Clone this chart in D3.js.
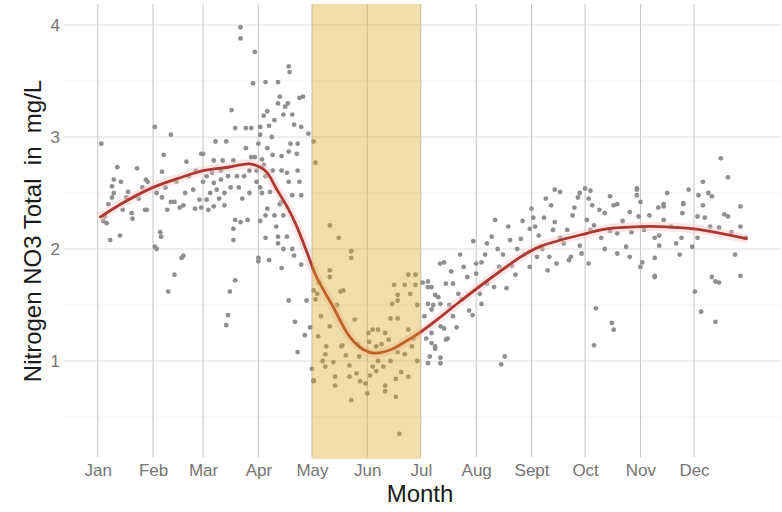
<!DOCTYPE html>
<html>
<head>
<meta charset="utf-8">
<script src="https://cdn.jsdelivr.net/npm/d3@7"></script>
<style>
  html, body { margin: 0; padding: 0; background: #fff; }
  svg { display: block; }
  text { font-family: "Liberation Sans", Arial, Helvetica, sans-serif; }
</style>
</head>
<body>
<svg id="chart" width="782" height="512"></svg>
<script>
// ---- tick labels ----
const monthLabels = ["Jan","Feb","Mar","Apr","May","Jun","Jul","Aug","Sept","Oct","Nov","Dec"];
const monthStartDays = [1,32,60,91,121,152,182,213,244,274,305,335];
const yTicks = [1,2,3,4];
const yMinor = [0.5,1.5,2.5,3.5];

// ---- highlighted period (day of year) ----
const highlightStart = 121; // May 1
const highlightEnd = 182;   // Jul 1

// ---- observations: [day of year, NO3 mg/L] ----
const obsJan = [[3,2.94],[12,2.73],[23,2.72],[10,2.62],[9,2.56],[10,2.5],[18,2.51],[17,2.46],[9,2.46],[5,2.29],[6,2.23],[20,2.32],[20.5,2.27],[8,2.08],[13.5,2.12],[28,2.62],[29,2.6],[27.5,2.35],[28.5,2.35],[4,2.25],[7,2.4],[14,2.6],[24,2.45],[26,2.55],[15,2.35]];
const obsFeb = [[33,3.09],[42,3.02],[38,2.84],[37,2.69],[34,2.5],[37,2.46],[36,2.15],[36.5,2.11],[33,2.02],[34,2.0],[48,1.92],[49,1.94],[44,1.77],[40.5,1.62],[40,2.35],[42,2.42],[44,2.42],[49,2.39],[50,2.5],[54.5,2.53],[55.5,2.36],[50.7,2.78],[58,2.44],[59,2.37],[47,2.37],[45,2.6],[52,2.65],[39,2.55],[56,2.7]];
const obsMar = [[59,2.85],[60,2.85],[67,2.96],[73,2.96],[66,2.79],[71,2.79],[77,2.79],[62,2.65],[66,2.59],[70,2.62],[74,2.65],[79,2.65],[83,2.65],[86,2.7],[67.7,2.53],[72,2.5],[75.5,2.55],[62,2.44],[63,2.35],[66,2.38],[72,2.39],[78,2.26],[81,2.24],[85,2.26],[77,2.18],[77,2.08],[78,1.72],[75,1.62],[74,1.41],[73,1.32],[76,3.24],[78,3.08],[84,3.08],[87,3.08],[81,3.98],[81,3.88],[84,2.9],[87,2.82],[89,2.82],[88,3.48],[89,3.76],[64,2.5],[69,2.45],[80,2.55],[82,2.45],[86,2.5],[70,2.7],[60,2.6],[65,2.68]];
const obsApr = [[95,3.49],[102,3.49],[103,3.36],[102,3.3],[106,3.27],[107.5,3.3],[114,3.35],[116,3.36],[96,3.23],[94,3.19],[108,3.63],[108.5,3.58],[111,3.11],[115,3.09],[119,3.03],[92,3.09],[92,3.02],[91,2.94],[98.5,3.0],[99,2.84],[108,2.87],[112.5,2.85],[107,2.68],[113,2.7],[108,2.6],[114,2.6],[97.5,2.51],[104,2.42],[96,2.36],[95,2.3],[95,2.1],[101,2.2],[102,2.11],[107,2.11],[110,2.0],[111,1.94],[115,1.86],[104,1.83],[91,1.92],[91,1.89],[108,1.54],[111.5,1.35],[117,1.23],[113,1.08],[118,1.54],[93,2.8],[94,2.75],[95,2.65],[96,2.9],[97,3.1],[100,3.15],[99,2.7],[92,2.55],[93,2.5],[104,2.7],[105,3.2],[110,3.2],[109,2.94],[113,2.94],[104,2.83],[110,2.48],[115,2.48],[103,2.4],[105,2.3],[100,2.3],[105,2.0],[102,2.05],[97,1.9],[92,2.25],[90,2.6],[90,2.7]];
const obsMay = [[121,0.93],[122,0.82],[122,2.96],[123,2.77],[131,2.21],[136,2.1],[143,1.98],[143,1.92],[131,1.81],[131,1.75],[138.6,1.63],[137,1.62],[122,1.63],[123,1.55],[124,1.6],[145,1.37],[131,1.31],[124.5,1.22],[137.5,1.13],[138,1.14],[129,1.13],[128.5,1.06],[133,0.99],[128.5,0.95],[122,0.83],[134,0.86],[134,0.78],[142,0.96],[142,0.86],[146,0.89],[148,0.82],[151,0.8],[126,1.4],[127,1.0],[140,1.05],[120,1.3],[125,1.7],[135,1.5]];
const obsJun = [[152,0.71],[153.5,0.87],[143,0.65],[157,0.91],[162,0.78],[162,0.73],[168,0.84],[168,0.68],[170,0.35],[152.6,1.25],[155,1.28],[158,1.28],[162,1.25],[164,1.19],[160,1.15],[157,1.13],[153,1.17],[165,1.38],[169,1.38],[166,1.51],[169,1.54],[169,1.59],[167,1.68],[173,1.68],[175,1.77],[179,1.77],[179,1.68],[175,1.28],[177,1.13],[173,1.06],[169,1.08],[175,0.86],[161,0.95],[147.5,1.04],[146.5,1.15],[155,0.95],[158,1.0],[165,1.0],[171,0.9],[180,1.5],[178,1.2],[176,1.6],[180,1.0]];
const obsJul = [[183,1.7],[186,1.71],[190,1.59],[189,1.5],[188,1.25],[190,1.13],[193,0.98],[186,0.98],[196,1.19],[193,1.31],[186,1.66],[188,1.66],[196,1.69],[200,1.69],[191.8,1.57],[193,1.51],[188,1.46],[186,1.51],[200,1.4],[202,1.3],[195,1.29],[197,1.2],[188,1.16],[190,1.11],[187,1.04],[193,1.03],[192.8,1.87],[195,1.88],[204,1.95],[206,1.84],[208,1.75],[209,1.45],[211,1.41],[211.4,2.07],[184,1.4],[185,1.2],[198,1.5],[203,1.6],[199,1.8],[205,1.55]];
const obsAug = [[213,1.87],[216,1.88],[213,1.78],[216,1.51],[219,2.05],[221.7,2.11],[223.6,2.26],[219,1.69],[223,1.66],[226,1.84],[227,0.97],[229,1.04],[230,1.65],[232,2.08],[235,1.77],[238,2.09],[243,1.84],[243,2.18],[244,2.36],[228,1.95],[236,2.0],[240,1.95],[215,1.6],[225,2.0],[233,1.85],[218,1.95],[239,2.25],[231,2.2]];
const obsSep = [[246,2.2],[245,2.28],[248,2.12],[250,2.0],[247,1.93],[251,2.28],[255,2.39],[257,2.53],[260,2.51],[257,2.24],[256,2.17],[264,2.17],[254,1.93],[258,1.87],[266,1.93],[265,1.9],[253,1.81],[268,2.37],[270,2.46],[271,2.5],[271,2.03],[272,1.96],[262,2.05],[267,2.3],[260,2.1],[252,2.45]];
const obsOct = [[274,2.54],[277,2.52],[276,2.45],[278,2.39],[275,2.26],[279,2.21],[277,2.17],[276,1.87],[280,1.47],[279,1.14],[285,2.32],[285,2.0],[288,2.47],[290,2.39],[292,2.4],[288,2.16],[292,2.14],[292,1.96],[289,1.34],[290,1.28],[297,2.02],[299,2.33],[299,1.93],[303,2.53],[303,2.48],[283,2.1],[295,2.25],[300,2.15],[282,2.35]];
const obsNov = [[303,2.54],[305,2.42],[304,2.29],[306,1.88],[305,1.84],[307,2.17],[313,2.1],[313,1.75],[315,2.37],[318,2.4],[318,2.38],[318,2.26],[315.5,2.12],[315.5,2.03],[313,1.92],[313,1.76],[327,1.95],[328,2.1],[328.5,2.32],[329,2.41],[329,2.4],[332,2.53],[334,2.02],[310,2.3],[322,2.2],[325,2.05],[320,2.5]];
const obsDec = [[335.5,1.62],[337,2.29],[337,2.1],[337.5,2.48],[339,1.44],[340,2.6],[340,2.39],[341,2.28],[343,2.5],[345,2.47],[345,1.75],[347,1.71],[347,1.35],[349,1.7],[349,2.19],[350,2.81],[352,2.31],[354,2.64],[354,2.29],[358,1.95],[361,2.38],[361,2.2],[361,1.76],[364,2.1],[344,2.2],[356,2.15]];

// ---- smoothed trend ----
const smoothDays   = [2, 15, 32, 46, 60, 74, 86, 92, 96, 101, 107, 112, 118, 123, 128, 133, 142, 150, 156, 165, 172, 182, 192, 203, 222, 240, 250, 275, 286, 305, 316, 335, 350, 365];
const smoothValues = [2.28, 2.41, 2.55, 2.63, 2.7, 2.73, 2.76, 2.73, 2.68, 2.54, 2.38, 2.22, 1.98, 1.77, 1.62, 1.48, 1.22, 1.1, 1.07, 1.1, 1.16, 1.26, 1.38, 1.52, 1.75, 1.95, 2.03, 2.14, 2.18, 2.2, 2.2, 2.18, 2.14, 2.09];

const observations = [].concat(obsJan, obsFeb, obsMar, obsApr, obsMay, obsJun, obsJul, obsAug, obsSep, obsOct, obsNov, obsDec);
const smooth = smoothDays.map((d, i) => [d, smoothValues[i]]);

// ---- layout ----
const W = 782, H = 512;
const panel = { left: 64, right: 780, top: 4, bottom: 459 };
const x = d3.scaleLinear().domain([1, 335]).range([97.7, 694]);
const y = d3.scaleLinear().domain([1, 4]).range([361, 25]);

const svg = d3.select("#chart");
svg.append("rect").attr("width", W).attr("height", H).attr("fill", "#fff");

const grid = svg.append("g");
grid.selectAll(".ymin").data(yMinor).join("line")
  .attr("x1", panel.left).attr("x2", panel.right)
  .attr("y1", d => y(d)).attr("y2", d => y(d))
  .attr("stroke", "#f3f3f3").attr("stroke-width", 1);
grid.selectAll(".ymaj").data(yTicks).join("line")
  .attr("x1", panel.left).attr("x2", panel.right)
  .attr("y1", d => y(d)).attr("y2", d => y(d))
  .attr("stroke", "#e8e8e8").attr("stroke-width", 1.5);
grid.selectAll(".xmaj").data(monthStartDays).join("line")
  .attr("x1", d => x(d)).attr("x2", d => x(d))
  .attr("y1", panel.top).attr("y2", panel.bottom - 2)
  .attr("stroke", "#c4c4c4").attr("stroke-width", 1);

// points
svg.append("g").selectAll("circle").data(observations).join("circle")
  .attr("cx", d => x(d[0])).attr("cy", d => y(d[1]))
  .attr("r", 2.4).attr("fill", "#8f8f8f");

// smooth line with faint band
const line = d3.line().x(d => x(d[0])).y(d => y(d[1])).curve(d3.curveCatmullRom.alpha(0.5));
svg.append("path").datum(smooth).attr("d", line)
  .attr("fill", "none").attr("stroke", "#f4c9c6").attr("stroke-width", 9).attr("opacity", 0.45);
svg.append("path").datum(smooth).attr("d", line)
  .attr("fill", "none").attr("stroke", "#ad3832").attr("stroke-width", 2.8);

// highlighted period
svg.append("rect")
  .attr("x", x(highlightStart)).attr("width", x(highlightEnd) - x(highlightStart))
  .attr("y", panel.top).attr("height", panel.bottom - panel.top)
  .attr("fill", "#daa520").attr("opacity", 0.38);

// axes
const xAxis = d3.axisBottom(x).tickValues(monthStartDays)
  .tickFormat((d, i) => monthLabels[i]).tickSize(0).tickPadding(0);
const gx = svg.append("g").attr("transform", `translate(0, ${panel.bottom + 17})`).call(xAxis);
gx.select(".domain").remove();
gx.selectAll("text").attr("fill", "#747474").attr("font-size", 17).attr("dy", 0)
  .attr("font-family", "'Liberation Sans', Arial, sans-serif");

const yAxis = d3.axisLeft(y).tickValues(yTicks).tickFormat(d3.format("d")).tickSize(0).tickPadding(0);
const gy = svg.append("g").attr("transform", `translate(${panel.left - 4}, 0)`).call(yAxis);
gy.select(".domain").remove();
gy.selectAll("text").attr("fill", "#747474").attr("font-size", 17)
  .attr("font-family", "'Liberation Sans', Arial, sans-serif");

// titles
svg.append("text").attr("x", 420).attr("y", 502).attr("text-anchor", "middle")
  .attr("font-size", 24).attr("fill", "#1a1a1a").text("Month");
svg.append("text").attr("transform", "translate(41, 231) rotate(-90)")
  .attr("text-anchor", "middle").attr("font-size", 24).attr("fill", "#1a1a1a")
  .style("white-space", "pre").text("Nitrogen NO3 Total  in  mg/L");
</script>
</body>
</html>
